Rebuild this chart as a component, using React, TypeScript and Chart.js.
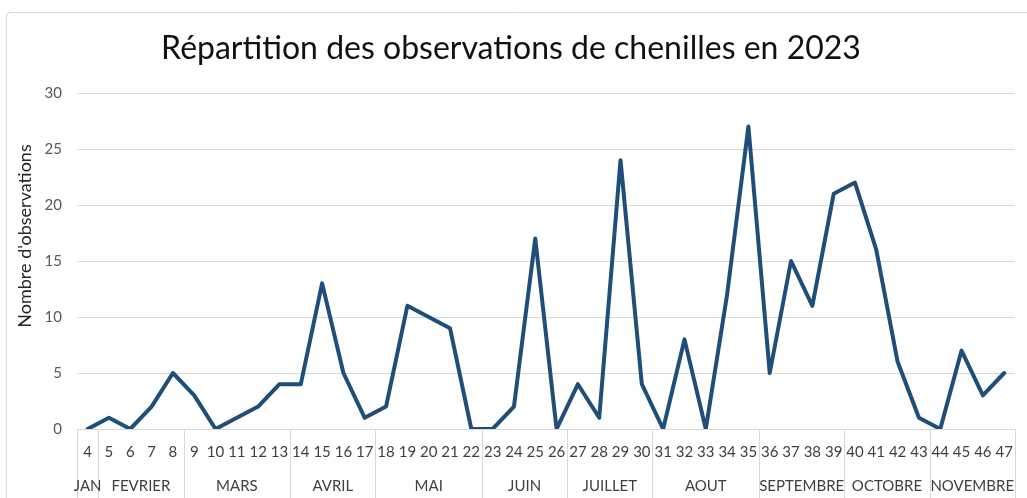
import React, { useEffect, useRef } from "react";
import { Chart, registerables } from "chart.js";

Chart.register(...registerables);

const weeks = [
  "4", "5", "6", "7", "8", "9", "10", "11", "12", "13", "14", "15", "16", "17", "18",
  "19", "20", "21", "22", "23", "24", "25", "26", "27", "28", "29", "30", "31", "32",
  "33", "34", "35", "36", "37", "38", "39", "40", "41", "42", "43", "44", "45", "46", "47",
];
const observations = [
  0, 1, 0, 2, 5, 3, 0, 1, 2, 4, 4, 13, 5, 1, 2, 11, 10, 9, 0, 0, 2, 17, 0, 4, 1, 24, 4,
  0, 8, 0, 12, 27, 5, 15, 11, 21, 22, 16, 6, 1, 0, 7, 3, 5,
];
const monthNames = [
  "JAN", "FEVRIER", "MARS", "AVRIL", "MAI", "JUIN", "JUILLET", "AOUT", "SEPTEMBRE", "OCTOBRE", "NOVEMBRE",
];
const monthWeekCounts = [1, 4, 5, 4, 5, 4, 4, 5, 4, 4, 4];
const yTicks = [0, 5, 10, 15, 20, 25, 30];

const TITLE = "Répartition des observations de chenilles en 2023";
const Y_TITLE = "Nombre d'observations";
const FONT = "Lato, 'Open Sans', 'DejaVu Sans', sans-serif";

const framePlugin = {
  id: "frame",
  beforeDraw(chart: any) {
    const ctx = chart.ctx;
    ctx.save();
    ctx.fillStyle = "#ffffff";
    ctx.fillRect(0, 0, chart.width, chart.height);
    ctx.strokeStyle = "#d9d9d9";
    ctx.lineWidth = 1;
    ctx.beginPath();
    if (ctx.roundRect) ctx.roundRect(6.5, 12.5, 1200, 700, 4);
    else ctx.rect(6.5, 12.5, 1200, 700);
    ctx.stroke();
    ctx.restore();
  },
};

const groupPlugin = {
  id: "monthGroups",
  beforeDatasetsDraw(chart: any) {
    const { ctx, chartArea } = chart;
    const x = chart.scales.x;
    const half = (x.getPixelForValue(1) - x.getPixelForValue(0)) / 2;
    ctx.save();
    ctx.strokeStyle = "#d9d9d9";
    ctx.lineWidth = 1;
    const sep = (px: number) => {
      const p = Math.round(px) + 0.5;
      ctx.beginPath();
      ctx.moveTo(p, chartArea.bottom);
      ctx.lineTo(p, chart.height);
      ctx.stroke();
    };
    sep(x.getPixelForValue(0) - half);
    ctx.fillStyle = "#404040";
    ctx.font = `15px ${FONT}`;
    ctx.textAlign = "center";
    ctx.textBaseline = "middle";
    let idx = 0;
    monthWeekCounts.forEach((n, i) => {
      const l = x.getPixelForValue(idx) - half;
      const r = x.getPixelForValue(idx + n - 1) + half;
      sep(r);
      ctx.fillText(monthNames[i], (l + r) / 2, 486);
      idx += n;
    });
    ctx.restore();
  },
};

const yTitlePlugin = {
  id: "yTitle",
  afterDraw(chart: any) {
    const ctx = chart.ctx;
    ctx.save();
    ctx.translate(25, 236);
    ctx.rotate(-Math.PI / 2);
    ctx.fillStyle = "#262626";
    ctx.font = `18px ${FONT}`;
    ctx.textAlign = "center";
    ctx.textBaseline = "middle";
    ctx.fillText(Y_TITLE, 0, 0);
    ctx.restore();
  },
};

export default function App() {
  const ref = useRef<HTMLCanvasElement | null>(null);
  useEffect(() => {
    if (!ref.current) return;
    const chart = new Chart(ref.current, {
      type: "line",
      data: {
        labels: weeks,
        datasets: [
          {
            data: observations,
            borderColor: "#1f4e79",
            borderWidth: 4,
            pointRadius: 0,
            borderJoinStyle: "round",
            borderCapStyle: "round",
            tension: 0,
          },
        ],
      },
      options: {
        responsive: false,
        animation: false,
        layout: { padding: { left: 5, right: 10, top: 0, bottom: 0 } },
        plugins: {
          legend: { display: false },
          tooltip: { enabled: false },
          title: {
            display: true,
            text: TITLE,
            color: "#111111",
            font: { family: FONT, size: 32, weight: "normal", lineHeight: 1.2 },
            padding: { top: 29.8, bottom: 24.8 },
          },
        },
        scales: {
          x: {
            offset: true,
            grid: { display: false, drawTicks: false },
            border: { display: false },
            ticks: {
              autoSkip: false,
              maxRotation: 0,
              minRotation: 0,
              padding: 14,
              color: "#404040",
              font: { family: FONT, size: 15 },
            },
            afterFit(scale: any) {
              scale.height = 69;
            },
          },
          y: {
            min: 0,
            max: 30,
            grid: { color: "#d9d9d9", lineWidth: 1, drawTicks: false },
            border: { display: false },
            afterBuildTicks(scale: any) {
              scale.ticks = yTicks.map((v) => ({ value: v }));
            },
            ticks: {
              padding: 15,
              color: "#595959",
              font: { family: FONT, size: 15 },
            },
            afterFit(scale: any) {
              scale.width = 72;
            },
          },
        },
      },
      plugins: [framePlugin, groupPlugin, yTitlePlugin],
    });
    return () => chart.destroy();
  }, []);
  return (
    <div style={{ position: "fixed", left: 0, top: 0, width: 1027, height: 498 }}>
      <canvas ref={ref} width={1027} height={498} />
    </div>
  );
}
